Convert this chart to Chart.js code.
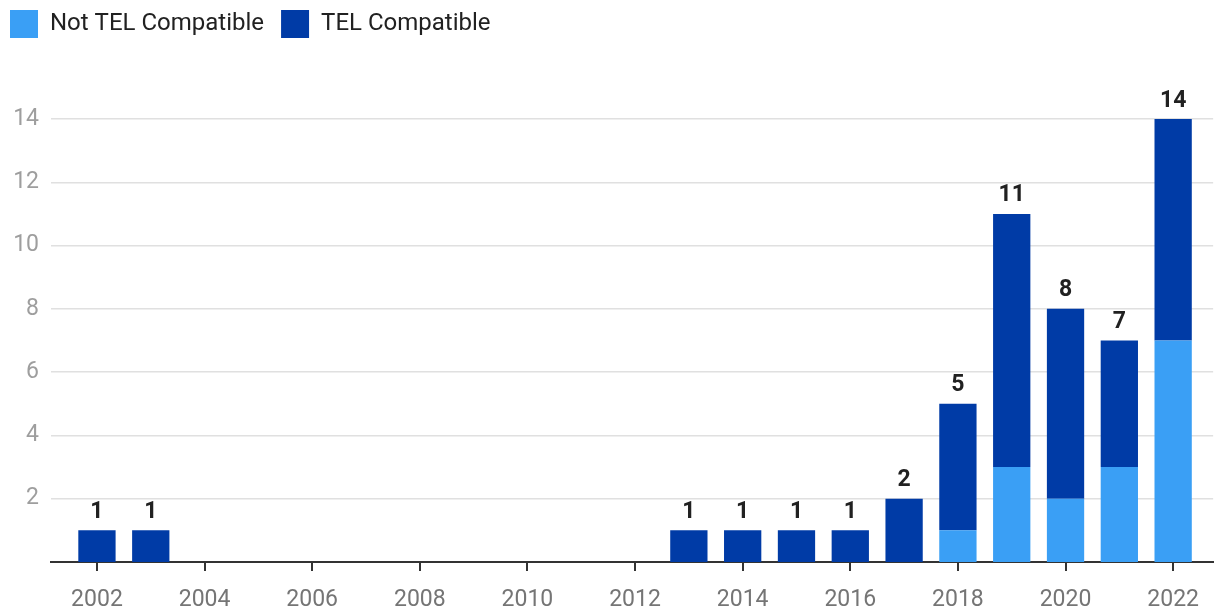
<!DOCTYPE html>
<html>
<head>
<meta charset="utf-8">
<script src="https://cdn.jsdelivr.net/npm/chart.js@4/dist/chart.umd.min.js"></script>
<style>
  html, body { margin: 0; padding: 0; background: #ffffff; }
  #wrap { width: 1214px; height: 610px; }
</style>
</head>
<body>
<div id="wrap"><canvas id="chart" width="1214" height="610"></canvas></div>
<script>
// Releases per year, split by TEL compatibility
const years = [2002, 2003, 2013, 2014, 2015, 2016, 2017, 2018, 2019, 2020, 2021, 2022];
const notTelCompatible = [0, 0, 0, 0, 0, 0, 0, 1, 3, 2, 3, 7];
const telCompatible    = [1, 1, 1, 1, 1, 1, 2, 4, 8, 6, 4, 7];
const yearTicks  = [2002, 2004, 2006, 2008, 2010, 2012, 2014, 2016, 2018, 2020, 2022];
const valueTicks = [2, 4, 6, 8, 10, 12, 14];

const FONT = 'Roboto, "Noto Sans", "DejaVu Sans", sans-serif';

const toPoints = vals => years.map((yr, i) => ({ x: yr, y: vals[i] }));

// Totals written above each stacked bar
const totalLabels = {
  id: 'totalLabels',
  afterDatasetsDraw(chart) {
    const { ctx, scales: { x, y } } = chart;
    ctx.save();
    ctx.font = 'bold 23px ' + FONT;
    ctx.fillStyle = '#212121';
    ctx.textAlign = 'center';
    ctx.textBaseline = 'alphabetic';
    years.forEach((yr, i) => {
      const total = notTelCompatible[i] + telCompatible[i];
      ctx.fillText(String(total), x.getPixelForValue(yr), y.getPixelForValue(total) - 12.5);
    });
    ctx.restore();
  }
};

new Chart(document.getElementById('chart'), {
  type: 'bar',
  data: {
    datasets: [
      { label: 'Not TEL Compatible', data: toPoints(notTelCompatible), backgroundColor: '#3a9ff5', borderWidth: 0 },
      { label: 'TEL Compatible',     data: toPoints(telCompatible),    backgroundColor: '#003ba6', borderWidth: 0 }
    ]
  },
  options: {
    responsive: false,
    devicePixelRatio: 1,
    animation: false,
    barPercentage: 0.693,
    categoryPercentage: 1,
    // legend spacing between items is wider than its outer margin
    layout: { padding: { left: -7, right: 0, top: -7, bottom: 0 } },
    plugins: {
      legend: {
        position: 'top',
        align: 'start',
        labels: {
          boxWidth: 28,
          boxHeight: 28,
          padding: 17,
          color: '#212121',
          font: { family: FONT, size: 24 }
        }
      },
      tooltip: { enabled: false }
    },
    scales: {
      x: {
        type: 'linear',
        stacked: true,
        offset: false,
        min: 2001.146,
        max: 2022.743,
        afterBuildTicks: s => { s.ticks = yearTicks.map(v => ({ value: v })); },
        afterFit: s => { s.height = 48; },
        border: { display: true, color: '#333333', width: 2 },
        grid: { offset: false, drawOnChartArea: false, drawTicks: true, tickLength: 9, color: '#333333', lineWidth: 2 },
        ticks: {
          padding: 15,
          color: '#757575',
          maxRotation: 0,
          autoSkip: false,
          font: { family: FONT, size: 23 },
          callback: v => String(v)
        }
      },
      y: {
        stacked: true,
        min: 0,
        max: 16.244,
        afterBuildTicks: s => { s.ticks = valueTicks.map(v => ({ value: v })); },
        afterFit: s => { s.width = 58; },
        border: { display: false },
        grid: { color: '#e0e0e0', lineWidth: 1.5, drawTicks: false },
        ticks: {
          padding: 12,
          color: '#9e9e9e',
          font: { family: FONT, size: 23 },
          callback: v => String(v)
        }
      }
    }
  },
  plugins: [totalLabels]
});
</script>
</body>
</html>
